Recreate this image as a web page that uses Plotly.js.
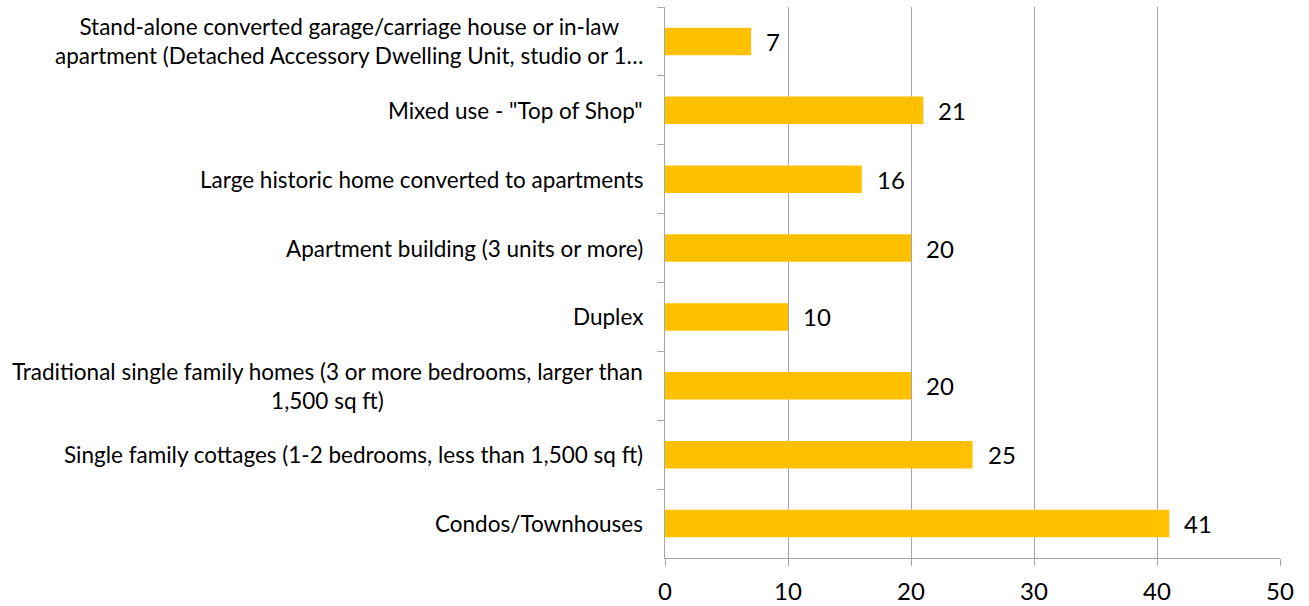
<!DOCTYPE html>
<html>
<head>
<meta charset="utf-8">
<script src="https://cdn.plot.ly/plotly-3.0.1.min.js"></script>
<style>html,body{margin:0;padding:0;background:#fff;}#chart{width:1309px;height:606px;}</style>
</head>
<body>
<div id="chart"></div>
<script>
// Categories listed top to bottom as in the reference
const categories = [
  "Stand-alone converted garage/carriage house or in-law<br>apartment (Detached Accessory Dwelling Unit, studio or 1…",
  "Mixed use - \"Top of Shop\"",
  "Large historic home converted to apartments",
  "Apartment building (3 units or more)",
  "Duplex",
  "Traditional single family homes (3 or more bedrooms, larger than<br>1,500 sq ft)",
  "Single family cottages (1-2 bedrooms, less than 1,500 sq ft)",
  "Condos/Townhouses"
];
const values = [7, 21, 16, 20, 10, 20, 25, 41];
const xTickValues = [0, 10, 20, 30, 40, 50];

const FONT = "Lato, 'Open Sans', sans-serif";
const keys = categories.map((c, i) => "c" + i);

const annotations = [];
categories.forEach((c, i) => {
  annotations.push({
    x: 0, xref: "paper", y: keys[i], yref: "y",
    text: c, showarrow: false, xanchor: "right", align: "center",
    xshift: -20, font: {family: FONT, size: 22.5, color: "#000"}
  });
  annotations.push({
    x: values[i], xref: "x", y: keys[i], yref: "y",
    text: String(values[i]), showarrow: false, xanchor: "left",
    xshift: 13, font: {family: FONT, size: 24, color: "#000"}
  });
});

const trace = {
  type: "bar", orientation: "h",
  x: values, y: keys,
  marker: {color: "#FFC000"},
  hoverinfo: "skip"
};

const layout = {
  width: 1309, height: 606,
  margin: {l: 665, r: 29, t: 7, b: 48},
  paper_bgcolor: "#fff", plot_bgcolor: "#fff",
  bargap: 0.6,
  showlegend: false,
  font: {family: FONT, color: "#000"},
  xaxis: {
    range: [0, 50], tickvals: xTickValues, ticktext: xTickValues.map(String),
    showgrid: true, gridcolor: "#a6a6a6", gridwidth: 1,
    showline: true, linecolor: "#a6a6a6", linewidth: 1,
    ticks: "outside", ticklen: 7, tickcolor: "#a6a6a6",
    ticklabelstandoff: 5,
    tickfont: {family: FONT, size: 24, color: "#000"},
    zeroline: false, fixedrange: true
  },
  yaxis: {
    type: "category", autorange: "reversed",
    showticklabels: false, showgrid: false, zeroline: false,
    showline: true, linecolor: "#a6a6a6", linewidth: 1,
    ticks: "outside", ticklen: 7, tickcolor: "#a6a6a6",
    tickson: "boundaries", fixedrange: true
  },
  annotations: annotations
};

Plotly.newPlot("chart", [trace], layout, {displayModeBar: false, staticPlot: true});
</script>
</body>
</html>
